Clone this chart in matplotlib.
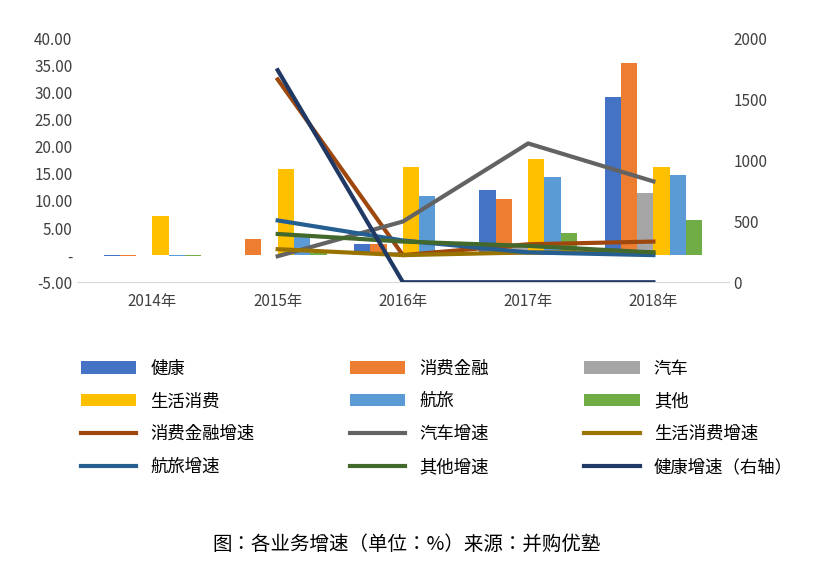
import matplotlib
matplotlib.use("Agg")
import matplotlib.pyplot as plt
from matplotlib import font_manager
import numpy as np

cjk = None
for f in font_manager.findSystemFonts():
    if "NotoSansCJK" in f.replace(" ", "") or "NotoSansSC" in f.replace(" ", ""):
        cjk = f
        break
if cjk:
    font_manager.fontManager.addfont(cjk)
    fam = font_manager.FontProperties(fname=cjk).get_name()
else:
    fam = "Noto Sans CJK SC"
plt.rcParams['font.family'] = [fam, "DejaVu Sans"]

years = ["2014年", "2015年", "2016年", "2017年", "2018年"]
bar_names = ["健康", "消费金融", "汽车", "生活消费", "航旅", "其他"]
bar_colors = ["#4472C4", "#ED7D31", "#A5A5A5", "#FFC000", "#5B9BD5", "#70AD47"]
health = [-0.2, 0.1, 2.0, 12.1, 29.1]
finance = [-0.2, 2.9, 2.0, 10.4, 35.5]
auto = [np.nan, 0.0, 0.5, 2.0, 11.5]
life = [7.3, 15.9, 16.2, 17.8, 16.2]
travel = [-0.2, 3.3, 10.9, 14.4, 14.7]
other = [-0.2, 0.3, 1.0, 4.1, 6.4]
bars = [health, finance, auto, life, travel, other]

line_names = ["消费金融增速", "汽车增速", "生活消费增速", "航旅增速", "其他增速"]
line_colors = ["#9E480E", "#636363", "#997300", "#255E91", "#43682B"]
finance_g = [np.nan, 32.4, 0.0, 2.0, 2.5]
auto_g = [np.nan, -0.2, 6.2, 20.6, 13.6]
life_g = [np.nan, 1.1, 0.0, 0.5, 0.5]
travel_g = [np.nan, 6.4, 2.7, 0.5, 0.0]
other_g = [np.nan, 3.9, 2.5, 1.7, 0.5]
lines = [finance_g, auto_g, life_g, travel_g, other_g]
health_g = [np.nan, 1738, 0, 0, 0]

fig = plt.figure(figsize=(8.14, 5.88), dpi=100)
ax = fig.add_axes([0.095, 0.52, 0.8, 0.415])
ax2 = ax.twinx()
x = np.arange(len(years))
w = 0.13
for i, (v, c, n) in enumerate(zip(bars, bar_colors, bar_names)):
    ax.bar(x + (i - 2.5) * w, v, w, color=c, label=n, zorder=2)
for v, c, n in zip(lines, line_colors, line_names):
    ax.plot(x, v, color=c, lw=3, label=n, zorder=3)
h2, = ax2.plot(x, health_g, color="#203864", lw=3, label="健康增速（右轴）")
ax.set_ylim(-5, 40)
ax2.set_ylim(0, 2000)
ax.set_xlim(-0.6, 4.6)
ax.set_yticks(np.arange(-5, 41, 5))
ax.set_yticklabels(["-5.00", "-"] + [f"{t:.2f}" for t in range(5, 41, 5)])
ax2.set_yticks(range(0, 2001, 500))
ax.set_xticks(x)
ax.set_xticklabels(years)
for a in (ax, ax2):
    for s in a.spines.values():
        s.set_visible(False)
    a.tick_params(length=0, labelsize=11, colors="#404040")
ax.spines['bottom'].set_visible(True)
ax.spines['bottom'].set_color("#D9D9D9")
ax.tick_params(axis='x', pad=8)
hs, ls = ax.get_legend_handles_labels()
bh = [hh for hh, ll in zip(hs, ls) if ll in bar_names]
lh = [hh for hh, ll in zip(hs, ls) if ll in line_names]
allh = bh + lh + [h2]
ncol = 3
nrow = int(np.ceil(len(allh) / ncol))
grid = [allh[r*ncol:(r+1)*ncol] for r in range(nrow)]
ordered = []
for c in range(ncol):
    for r in range(nrow):
        if c < len(grid[r]):
            ordered.append(grid[r][c])
fig.legend(ordered, [o.get_label() for o in ordered], ncol=ncol, loc='upper left',
           bbox_to_anchor=(0.08, 0.415), frameon=False, fontsize=12.5,
           handlelength=3.2, columnspacing=5.5, labelspacing=0.85)
fig.text(0.5, 0.065, "图：各业务增速（单位：%）来源：并购优塾", ha='center', fontsize=14)
fig.savefig("out.png")
